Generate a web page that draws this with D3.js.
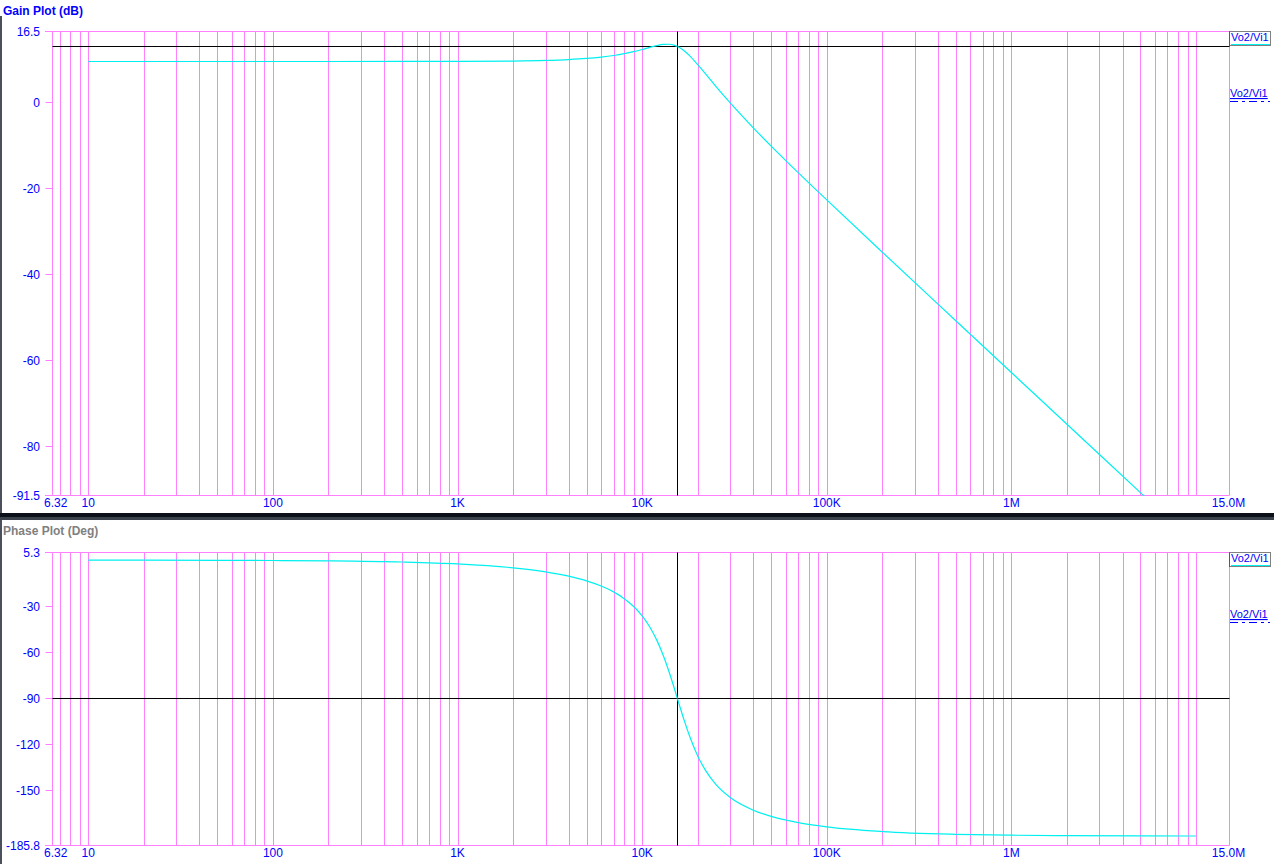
<!DOCTYPE html>
<html>
<head>
<meta charset="utf-8">
<script src="https://cdn.jsdelivr.net/npm/d3@7"></script>
<style>
  html, body { margin: 0; padding: 0; background: #ffffff; }
  svg { display: block; }
  text { font-family: "Liberation Sans", Arial, sans-serif; }
</style>
</head>
<body>
<svg id="chart" width="1274" height="864"></svg>
<script>
// ---- data ----
const freqs = [10, 20, 50, 100, 200, 500, 1000, 2000, 3000, 4000, 5000, 6000, 7000, 8000, 9000,
  10000, 11000, 12000, 13000, 14000, 15000, 15500, 16000, 17000, 18000, 20000, 22000, 25000,
  30000, 40000, 50000, 70000, 100000, 200000, 500000, 1000000, 2000000, 5000000, 10000000];
const gainDb = [9.40, 9.40, 9.40, 9.40, 9.40, 9.41, 9.43, 9.51, 9.65, 9.85, 10.11, 10.43, 10.80, 11.23, 11.70,
  12.19, 12.68, 13.10, 13.37, 13.42, 13.17, 12.92, 12.61, 11.80, 10.82, 8.67, 6.56, 3.69,
  -0.24, -6.04, -10.29, -16.46, -22.82, -34.99, -50.94, -62.99, -75.03, -90.95, -102.99];
const phaseDeg = [-0.03, -0.05, -0.12, -0.25, -0.49, -1.23, -2.47, -5.00, -7.63, -10.44, -13.50, -16.89, -20.72, -25.13, -30.28,
  -36.38, -43.63, -52.18, -62.06, -72.99, -84.38, -90.00, -95.44, -105.51, -114.24, -127.70, -137.00, -146.12,
  -154.84, -163.09, -167.12, -171.18, -173.96, -177.02, -178.81, -179.41, -179.70, -179.88, -179.94];

const xDomain = [6.32, 15000000];
const xLabelValues = [6.32, 10, 100, 1000, 10000, 100000, 1000000, 15000000];
const xLabelText = ["6.32", "10", "100", "1K", "10K", "100K", "1M", "15.0M"];
const gridFreqs = [7, 8, 9, 10, 20, 30, 40, 50, 60, 70, 80, 90, 100, 200, 300, 400, 500, 600, 700, 800, 900,
  1000, 2000, 3000, 4000, 5000, 6000, 7000, 8000, 9000, 10000, 20000, 30000, 40000, 50000, 60000, 70000, 80000, 90000,
  100000, 200000, 300000, 400000, 500000, 600000, 700000, 800000, 900000,
  1000000, 2000000, 3000000, 4000000, 5000000, 6000000, 7000000, 8000000, 9000000, 10000000];

const gainDomain = [16.5, -91.5];
const gainTicks = [16.5, 0, -20, -40, -60, -80, -91.5];
const phaseDomain = [5.3, -185.8];
const phaseTicks = [5.3, -30, -60, -90, -120, -150, -185.8];

const cursorFreq = 15500;
const cursorGain = 12.92;
const cursorPhase = -90;

const seriesName = "Vo2/Vi1";

// ---- styles ----
const MAGENTA = "#ff80ff";
const CYAN = "#00f0f0";
const BLUE = "#0000ff";

const svg = d3.select("#chart");
const left = 51.5, right = 1228.5;
const x = d3.scaleLog().domain(xDomain).range([left, right]);
const px = v => Math.round(v) + 0.5;

// window borders / separator
svg.append("rect").attr("x", 0).attr("y", 16).attr("width", 2).attr("height", 498).attr("fill", "#4a505c");
svg.append("rect").attr("x", 0).attr("y", 513).attr("width", 1274).attr("height", 4).attr("fill", "#0c1018");
svg.append("rect").attr("x", 0).attr("y", 517).attr("width", 1274).attr("height", 3).attr("fill", "#3c424c");
svg.append("rect").attr("x", 0).attr("y", 520).attr("width", 2).attr("height", 344).attr("fill", "#4a505c");

function panel(cfg) {
  const g = svg.append("g");
  const y = d3.scaleLinear().domain(cfg.domain).range([cfg.top, cfg.bottom]);

  // title
  g.append("text").attr("x", 3).attr("y", cfg.titleY)
    .attr("font-size", 12).attr("font-weight", "bold").attr("fill", cfg.titleColor)
    .text(cfg.title);

  // vertical grid
  g.selectAll("line.vgrid").data(gridFreqs).join("line")
    .attr("class", "vgrid")
    .attr("x1", d => px(x(d))).attr("x2", d => px(x(d)))
    .attr("y1", px(y(cfg.domain[0]))).attr("y2", px(y(cfg.domain[1])))
    .attr("stroke", MAGENTA).attr("stroke-width", 1);

  // left and right edges
  [xDomain[0], xDomain[1]].forEach(f => {
    g.append("line").attr("x1", px(x(f))).attr("x2", px(x(f)))
      .attr("y1", px(y(cfg.domain[0]))).attr("y2", px(y(cfg.domain[1])))
      .attr("stroke", MAGENTA);
  });

  // top and bottom frame lines (with tick stub)
  cfg.domain.forEach(v => {
    g.append("line").attr("x1", 45).attr("x2", px(x(xDomain[1])))
      .attr("y1", px(y(v))).attr("y2", px(y(v)))
      .attr("stroke", MAGENTA);
  });

  // y axis
  const yAxis = d3.axisLeft(y).tickValues(cfg.ticks).tickSize(7).tickSizeOuter(0)
    .tickFormat(d => String(d));
  const ya = g.append("g").attr("transform", `translate(${px(x(xDomain[0]))},0)`).call(yAxis);
  ya.select(".domain").remove();
  ya.selectAll(".tick line").attr("stroke", MAGENTA);
  ya.selectAll(".tick").attr("transform", d => `translate(0,${px(y(d))})`);
  ya.selectAll(".tick text").attr("fill", BLUE).attr("font-size", 12)
    .attr("font-family", "Liberation Sans, Arial, sans-serif").attr("x", -12.5).attr("dy", "0.36em");

  // x labels
  g.selectAll("text.xl").data(xLabelValues).join("text")
    .attr("class", "xl")
    .attr("x", (d, i) => i === 0 ? 44 : x(d))
    .attr("y", cfg.xLabelY)
    .attr("text-anchor", (d, i) => i === 0 ? "start" : "middle")
    .attr("font-size", 12).attr("fill", BLUE)
    .text((d, i) => xLabelText[i]);

  // clip
  const clipId = "clip" + cfg.id;
  svg.append("clipPath").attr("id", clipId).append("rect")
    .attr("x", left).attr("y", cfg.top).attr("width", right - left).attr("height", cfg.bottom - cfg.top + 1);

  // cursor lines
  g.append("line").attr("x1", px(x(xDomain[0]))).attr("x2", px(x(xDomain[1])))
    .attr("y1", px(y(cfg.cursorVal))).attr("y2", px(y(cfg.cursorVal)))
    .attr("stroke", "#000");
  g.append("line").attr("x1", px(x(cursorFreq))).attr("x2", px(x(cursorFreq)))
    .attr("y1", px(y(cfg.domain[0]))).attr("y2", px(y(cfg.domain[1])))
    .attr("stroke", "#000");

  // curve
  const pts = freqs.map((f, i) => [f, cfg.values[i]]);
  const line = d3.line().x(d => x(d[0])).y(d => y(d[1])).curve(d3.curveMonotoneX);
  g.append("path").datum(pts).attr("clip-path", `url(#${clipId})`)
    .attr("d", line).attr("fill", "none").attr("stroke", CYAN).attr("stroke-width", 1.2);

  // cursor dot
  g.append("rect").attr("x", Math.round(x(cursorFreq))).attr("y", Math.round(y(cfg.cursorVal)))
    .attr("width", 1).attr("height", 1).attr("fill", "#ff0000");

  // legend
  const lx = 1230;
  const l1 = cfg.top;
  g.append("rect").attr("x", 1229.5).attr("y", l1 + 0.5).attr("width", 41).attr("height", 14)
    .attr("fill", "none").attr("stroke", "#000").attr("stroke-dasharray", "1,1");
  g.append("text").attr("x", lx + 1).attr("y", l1 + 10).attr("font-size", 11).attr("fill", BLUE)
    .text(seriesName);
  g.append("line").attr("x1", lx + 1).attr("x2", 1270).attr("y1", l1 + 13.5).attr("y2", l1 + 13.5)
    .attr("stroke", CYAN).attr("stroke-width", 1);

  const l2 = cfg.top + 57;
  g.append("text").attr("x", lx).attr("y", l2 + 9).attr("font-size", 11).attr("fill", BLUE)
    .attr("text-decoration", "underline").text(seriesName);
  g.append("line").attr("x1", lx).attr("x2", 1270).attr("y1", l2 + 13.5).attr("y2", l2 + 13.5)
    .attr("stroke", BLUE).attr("stroke-dasharray", "8,4,3,4");
}

panel({
  id: "gain", title: "Gain Plot (dB)", titleColor: BLUE, titleY: 15,
  top: 31, bottom: 495, domain: gainDomain, ticks: gainTicks, values: gainDb,
  xLabelY: 507, cursorVal: cursorGain
});
panel({
  id: "phase", title: "Phase Plot (Deg)", titleColor: "#808080", titleY: 535,
  top: 552, bottom: 845, domain: phaseDomain, ticks: phaseTicks, values: phaseDeg,
  xLabelY: 857, cursorVal: cursorPhase
});
</script>
</body>
</html>
